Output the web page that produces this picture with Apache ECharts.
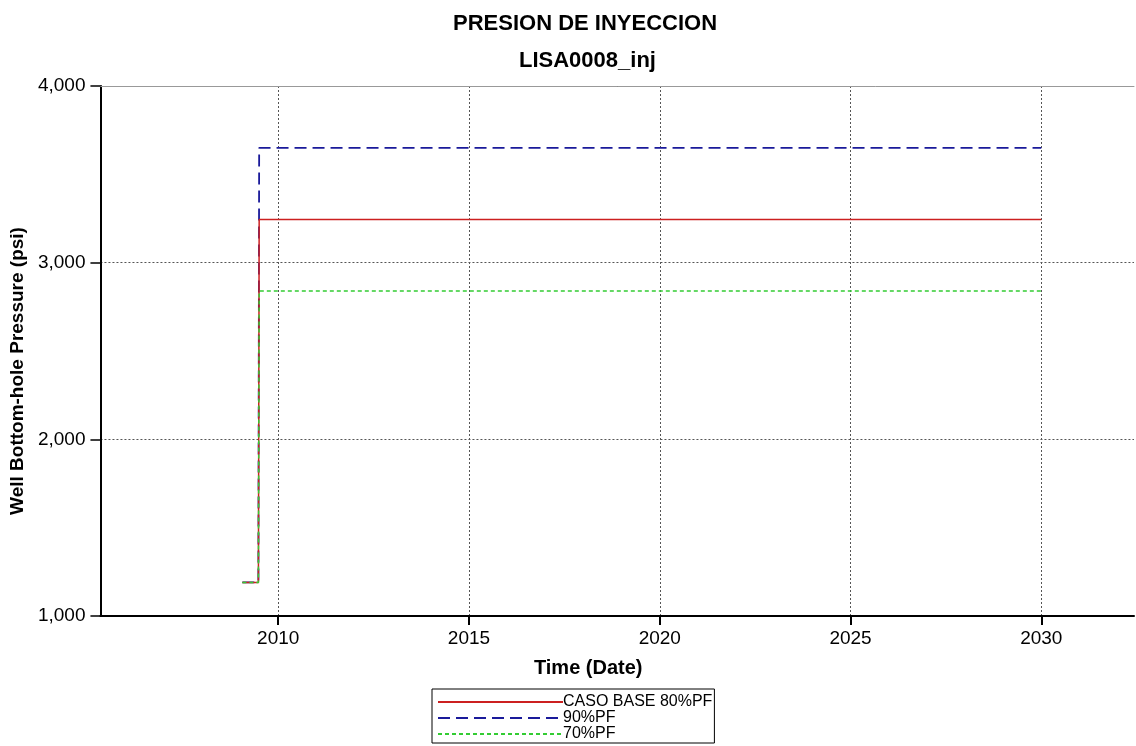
<!DOCTYPE html>
<html>
<head>
<meta charset="utf-8">
<script src="https://cdn.jsdelivr.net/npm/echarts@6/dist/echarts.min.js"></script>
<style>html,body{margin:0;padding:0;background:#fff}#c{width:1136px;height:746px}</style>
</head>
<body>
<div id="c"></div>
<script>
// Data (time in decimal years, pressure in psi)
const seriesNames = ['CASO BASE 80%PF', '90%PF', '70%PF'];
const timeYears = [2009.06, 2009.48, 2009.5, 2030.0];
const caseBase80 = [1190, 1190, 3245, 3245];
const pf90 = [1190, 1190, 3650, 3650];
const pf70 = [1190, 1190, 2839, 2839];
const xTickYears = [2010, 2015, 2020, 2025, 2030];
const yTicks = [1000, 2000, 3000, 4000];

const FONT = '"Liberation Sans", Arial, sans-serif';
const pair = (xs, ys) => xs.map((x, i) => [x, ys[i]]);

const chart = echarts.init(document.getElementById('c'), null, {renderer: 'canvas'});
chart.setOption({
  backgroundColor: '#ffffff',
  animation: false,
  title: [
    {text: 'PRESION DE INYECCION', left: 448, top: 8,
     textStyle: {fontFamily: FONT, fontSize: 22, fontWeight: 'bold', color: '#000'}},
    {text: 'LISA0008_inj', left: 514, top: 45,
     textStyle: {fontFamily: FONT, fontSize: 22, fontWeight: 'bold', color: '#000'}}
  ],
  legend: {
    orient: 'vertical',
    left: 432, top: 689,
    height: 60,
    itemWidth: 125, itemHeight: 10, itemGap: 0,
    padding: [5, 2, 1, 5],
    borderColor: '#000', borderWidth: 1,
    itemStyle: {color: 'rgba(0,0,0,0)', borderWidth: 0, opacity: 0},
    textStyle: {fontFamily: FONT, fontSize: 16, lineHeight: 16, color: '#000', padding: [0, 0, 0, -5]},
    data: seriesNames
  },
  grid: {left: 100, right: 2, top: 86, bottom: 130, containLabel: false},
  xAxis: [{
    type: 'value',
    min: 2005.34, max: 2032.43,
    name: 'Time (Date)', nameLocation: 'middle', nameGap: 42,
    nameTextStyle: {fontFamily: FONT, fontSize: 20, fontWeight: 'bold', color: '#000', padding: [0, 58, 0, 0]},
    axisLine: {show: true, lineStyle: {color: '#000', width: 2}},
    axisTick: {show: true, length: 9, inside: false, customValues: xTickYears, lineStyle: {color: '#000', width: 2}},
    axisLabel: {customValues: xTickYears, fontFamily: FONT, fontSize: 19, color: '#000', margin: 13, formatter: v => String(Math.round(v))},
    splitLine: {show: true, lineStyle: {color: '#555', type: [2, 2], width: 1}}
  }, {
    type: 'value', position: 'top',
    min: 2005.34, max: 2032.43,
    axisLine: {show: true, lineStyle: {color: '#999', width: 1}},
    axisTick: {show: false}, axisLabel: {show: false}, splitLine: {show: false}
  }],
  yAxis: {
    type: 'value',
    min: 1000, max: 4000, interval: 1000,
    name: 'Well Bottom-hole Pressure (psi)', nameLocation: 'middle', nameGap: 69, nameRotate: 90,
    nameTextStyle: {fontFamily: FONT, fontSize: 19, fontWeight: 'bold', color: '#000', padding: [0, 40, 0, 0]},
    axisLine: {show: true, lineStyle: {color: '#000', width: 2}},
    axisTick: {show: true, length: 10, lineStyle: {color: '#000', width: 1.5}},
    axisLabel: {fontFamily: FONT, fontSize: 19, color: '#000', margin: 15,
                formatter: v => v.toLocaleString('en-US')},
    splitLine: {show: true, lineStyle: {color: '#555', type: [2, 2], width: 1}}
  },
  series: [
    {name: seriesNames[0], type: 'line', symbol: 'none', data: pair(timeYears, caseBase80),
     lineStyle: {color: '#cc2020', width: 1.5, type: 'solid'}, itemStyle: {color: '#cc2020'}, z: 3},
    {name: seriesNames[1], type: 'line', symbol: 'none', data: pair(timeYears, pf90),
     lineStyle: {color: '#1a1a9a', width: 1.8, type: [12, 6]}, itemStyle: {color: '#1a1a9a'}, z: 2},
    {name: seriesNames[2], type: 'line', symbol: 'none', data: pair(timeYears, pf70),
     lineStyle: {color: '#33cc33', width: 1.5, type: [4, 3]}, itemStyle: {color: '#33cc33'}, z: 4}
  ]
});
</script>
</body>
</html>
